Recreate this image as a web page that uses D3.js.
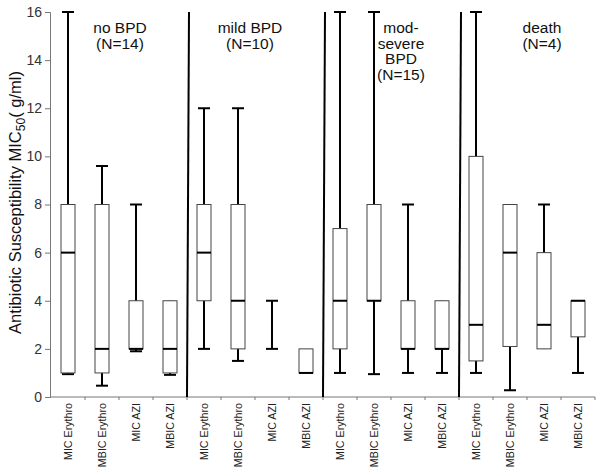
<html>
<head>
    <script src="https://d3js.org/d3.v7.min.js"></script>
    <style>
        body { margin: 0; background: white; font-family: "Liberation Sans", Arial, sans-serif; }
        .tick text { fill: #333; }
    </style>
</head>
<body>
<div id="chart"></div>
<script>
    // groups and their labels
    var groups = ["no BPD", "mild BPD", "mod-severe BPD", "death"];
    var groupLabels = [["no BPD", "(N=14)"], ["mild BPD", "(N=10)"], ["mod-", "severe", "BPD", "(N=15)"], ["death", "(N=4)"]];
    var measures = ["MIC Erythro", "MBIC Erythro", "MIC AZI", "MBIC AZI"];

    // box stats per group, in measures order
    var mins    = [[0.95, 0.47, 1.9, 0.92], [2, 1.5, 2, 1], [1, 0.95, 1, 1], [1, 0.28, 2, 1]];
    var q1s     = [[1, 1, 2, 1], [4, 2, 4, 1], [2, 4, 2, 2], [1.5, 2.1, 2, 2.5]];
    var medians = [[6, 2, 2, 2], [6, 4, 4, 1], [4, 4, 2, 2], [3, 6, 3, 4]];
    var q3s     = [[8, 8, 4, 4], [8, 8, 4, 2], [7, 8, 4, 4], [10, 8, 6, 4]];
    var maxs    = [[16, 9.6, 8, 4], [12, 12, 4, 2], [16, 16, 8, 4], [16, 8, 8, 4]];
    var yTicks = [0, 2, 4, 6, 8, 10, 12, 14, 16];

    var width = 601, height = 476;
    var margin = {top: 12, left: 50, right: 6, bottom: 79};
    var labelShift = [1, -5, 10, 15];

    var rows = [];
    groups.forEach(function (g, gi) {
        measures.forEach(function (m, mi) {
            rows.push({key: gi + "|" + m, group: gi, measure: m,
                min: mins[gi][mi], q1: q1s[gi][mi], med: medians[gi][mi], q3: q3s[gi][mi], max: maxs[gi][mi]});
        });
    });

    var svg = d3.select("#chart").append("svg")
        .attr("width", width).attr("height", height)
        .style("font-family", "'Liberation Sans', Arial, sans-serif");

    var x = d3.scaleBand()
        .domain(rows.map(function (d) { return d.key; }))
        .range([margin.left + 1, width - margin.right]);
    var y = d3.scaleLinear().domain([0, 16]).range([height - margin.bottom, margin.top]);

    // y axis
    var yAxis = svg.append("g")
        .attr("transform", "translate(" + margin.left + ",0)")
        .call(d3.axisLeft(y).tickValues(yTicks).tickSize(5).tickPadding(3));
    yAxis.selectAll("text").style("font-size", "14px").style("font-family", "'Liberation Sans', Arial, sans-serif");
    yAxis.select(".domain").attr("stroke", "#777");
    yAxis.selectAll(".tick line").attr("stroke", "#777");

    // x axis
    var x0 = height - margin.bottom;
    svg.append("line").attr("x1", margin.left).attr("x2", width - margin.right)
        .attr("y1", x0).attr("y2", x0).attr("stroke", "#777");
    svg.selectAll("line.xtick").data(rows).join("line")
        .attr("class", "xtick")
        .attr("x1", function (d) { return x(d.key) + x.bandwidth(); })
        .attr("x2", function (d) { return x(d.key) + x.bandwidth(); })
        .attr("y1", x0).attr("y2", x0 + 3).attr("stroke", "#777");
    svg.selectAll("text.xlab").data(rows).join("text")
        .attr("class", "xlab")
        .attr("transform", function (d) {
            return "translate(" + (x(d.key) + x.bandwidth() / 2 + 4) + "," + (x0 + 6) + ") rotate(-90)";
        })
        .attr("text-anchor", "end")
        .style("font-size", "10.7px").style("fill", "#222")
        .text(function (d) { return d.measure; });

    // group dividers
    [1, 2, 3].forEach(function (gi) {
        var bx = x(gi + "|" + measures[0]);
        svg.append("line")
            .attr("x1", bx + 2).attr("y1", y(16))
            .attr("x2", bx).attr("y2", x0)
            .attr("stroke", "black").attr("stroke-width", 2);
    });

    // boxes
    var bw = 14, cap = 12;
    var hasBox = function (d) { return d.q3 > d.q1; };
    var box = svg.append("g").selectAll("g").data(rows).join("g")
        .attr("transform", function (d) { return "translate(" + (x(d.key) + x.bandwidth() / 2) + ",0)"; });
    box.append("line")
        .attr("y1", function (d) { return y(d.min); }).attr("y2", function (d) { return y(d.max); })
        .attr("stroke", "black").attr("stroke-width", 2);
    box.filter(function (d) { return !hasBox(d) || d.max > d.q3; }).append("line")
        .attr("x1", -cap / 2).attr("x2", cap / 2)
        .attr("y1", function (d) { return y(d.max); }).attr("y2", function (d) { return y(d.max); })
        .attr("stroke", "black").attr("stroke-width", 2);
    box.filter(function (d) { return !hasBox(d) || d.min < d.q1; }).append("line")
        .attr("x1", -cap / 2).attr("x2", cap / 2)
        .attr("y1", function (d) { return y(d.min); }).attr("y2", function (d) { return y(d.min); })
        .attr("stroke", "black").attr("stroke-width", 2);
    box.filter(hasBox).append("rect")
        .attr("x", -bw / 2).attr("width", bw)
        .attr("y", function (d) { return y(d.q3); })
        .attr("height", function (d) { return y(d.q1) - y(d.q3); })
        .attr("fill", "white").attr("stroke", "#444").attr("stroke-width", 1);
    box.filter(hasBox).append("line")
        .attr("x1", -bw / 2).attr("x2", bw / 2)
        .attr("y1", function (d) { return y(d.med); }).attr("y2", function (d) { return y(d.med); })
        .attr("stroke", "black").attr("stroke-width", 2);

    // group labels
    groupLabels.forEach(function (lines, gi) {
        var cx = x(gi + "|" + measures[0]) + x.bandwidth() * 2 + labelShift[gi];
        var t = svg.append("text").attr("text-anchor", "middle")
            .attr("x", cx).attr("y", 33).style("font-size", "15.5px").style("fill", "#111");
        lines.forEach(function (s, i) {
            t.append("tspan").attr("x", cx).attr("dy", i === 0 ? 0 : 15.5).text(s);
        });
    });

    // y title
    var title = svg.append("text")
        .attr("transform", "translate(21," + ((y(0) + y(16)) / 2 - 2) + ") rotate(-90)")
        .attr("text-anchor", "middle").style("font-size", "16.5px").style("fill", "#111");
    title.append("tspan").text("Antibiotic Susceptibility MIC");
    title.append("tspan").attr("dy", 4).style("font-size", "12px").text("50");
    title.append("tspan").attr("dy", -4).text("( g/ml)");
</script>
</body>
</html>
